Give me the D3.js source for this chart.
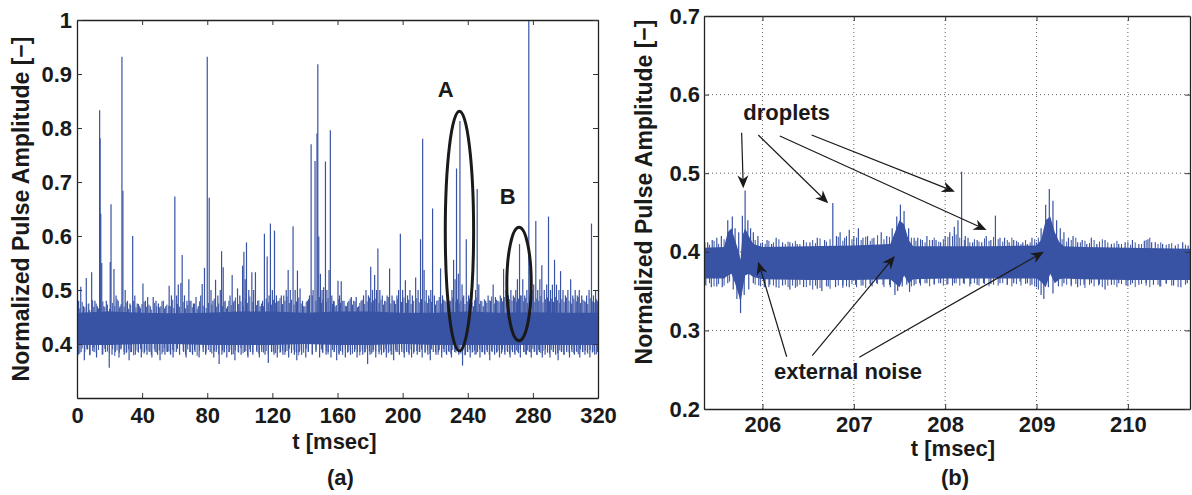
<!DOCTYPE html>
<html>
<head>
<meta charset="utf-8">
<script src="https://cdn.jsdelivr.net/npm/d3@7"></script>
<style>
  body { margin: 0; background: #fff; }
  text { font-family: "Liberation Sans", Arial, Helvetica, sans-serif; font-weight: bold; fill: #1a1a1a; }
</style>
</head>
<body>
<svg id="fig" width="1192" height="495"></svg>
<script>
// ---------- panel (a) data : t [msec], amplitude [-] ----------
var a_bandT  = [0, 20, 40, 60, 80, 100, 120, 140, 160, 180, 200, 220, 240, 260, 280, 300, 320];
var a_bandHi = [0.458, 0.46, 0.458, 0.457, 0.458, 0.46, 0.46, 0.458, 0.46, 0.46, 0.458, 0.458, 0.46, 0.458, 0.459, 0.458, 0.458];
var a_bandLo = [0.398, 0.398, 0.4, 0.4, 0.398, 0.398, 0.398, 0.4, 0.398, 0.398, 0.4, 0.398, 0.398, 0.398, 0.398, 0.398, 0.398];

// upward excursions (spikes)
var a_peakT = [1.0,2.3,4.0,5.7,7.2,9.0,11.0,12.5,13.9,14.2,14.6,15.2,16.5,18.0,19.2,20.4,20.9,22.7,24.0,25.3,26.5,27.6,28.2,29.6,31.0,32.5,34.2,35.5,37.0,38.5,
  40.5,42.0,43.4,45.0,46.8,48.5,50.0,51.5,53.0,54.5,56.6,58.0,60.1,61.2,62.2,63.8,64.6,66.0,67.5,68.7,70.0,71.5,73.1,74.5,76.0,76.9,78.3,80.0,81.2,82.3,
  83.5,85.1,86.5,88.0,88.8,89.8,91.0,92.5,94.0,95.3,96.5,98.6,100.0,101.7,102.5,103.3,104.1,105.5,107.4,108.5,109.6,111.0,112.5,114.0,115.1,116.8,118.0,118.8,120.0,121.3,
  122.5,124.0,125.5,127.0,128.5,129.7,131.0,132.7,134.0,135.4,137.0,138.5,140.0,141.5,142.8,143.8,145.0,146.2,147.4,147.9,148.5,149.5,150.5,151.5,152.6,153.5,154.8,155.6,156.5,157.5,
  158.5,160.3,161.3,162.3,164.0,165.5,167.0,168.5,170.0,171.5,173.0,174.5,176.0,177.5,179.0,180.4,181.5,182.8,184.0,184.8,186.0,187.5,189.0,190.5,192.0,193.5,195.0,196.5,197.5,198.6,
  200.0,201.7,203.0,204.5,206.0,208.0,209.5,211.0,212.3,213.2,214.5,216.0,217.3,218.4,219.5,221.0,223.3,224.5,226.0,227.5,229.0,230.3,231.3,232.2,233.1,234.2,235.2,236.5,237.5,239.1,
  240.5,242.0,243.5,244.8,245.8,246.8,248.0,249.5,251.0,252.5,254.0,255.6,257.0,258.5,260.0,262.0,263.5,265.0,266.5,268.0,269.5,270.5,271.8,272.8,273.8,275.0,276.3,277.5,278.3,279.5,
  280.5,281.8,283.0,284.3,285.5,287.0,288.5,289.6,290.8,292.0,293.3,294.5,296.0,297.0,298.5,300.0,301.5,303.2,304.5,306.0,307.3,308.5,310.0,311.5,313.0,314.5,316.0,317.2,318.5,319.5];
var a_peakV = [0.48,0.506,0.47,0.522,0.475,0.533,0.48,0.47,0.833,0.781,0.641,0.55,0.47,0.48,0.46,0.552,0.659,0.539,0.49,0.48,0.47,0.932,0.684,0.50,0.48,0.475,0.60,0.49,0.475,0.47,
  0.512,0.48,0.487,0.47,0.487,0.48,0.475,0.47,0.48,0.47,0.508,0.49,0.673,0.49,0.51,0.513,0.565,0.49,0.48,0.52,0.48,0.475,0.487,0.47,0.49,0.511,0.541,0.932,0.671,0.50,
  0.48,0.519,0.49,0.50,0.572,0.542,0.48,0.47,0.49,0.528,0.48,0.503,0.49,0.545,0.571,0.52,0.588,0.50,0.533,0.50,0.533,0.48,0.47,0.48,0.604,0.562,0.49,0.623,0.50,0.61,
  0.49,0.48,0.49,0.49,0.50,0.537,0.50,0.618,0.50,0.536,0.503,0.48,0.47,0.48,0.49,0.77,0.50,0.739,0.79,0.918,0.599,0.53,0.50,0.505,0.738,0.50,0.537,0.796,0.49,0.48,
  0.47,0.517,0.49,0.516,0.48,0.47,0.48,0.487,0.48,0.487,0.47,0.48,0.49,0.50,0.49,0.543,0.50,0.528,0.50,0.577,0.50,0.49,0.48,0.49,0.54,0.49,0.48,0.49,0.50,0.604,
  0.50,0.518,0.49,0.50,0.49,0.523,0.50,0.594,0.78,0.537,0.50,0.49,0.50,0.651,0.49,0.48,0.54,0.49,0.48,0.47,0.48,0.50,0.556,0.52,0.725,0.53,0.813,0.51,0.49,0.594,
  0.49,0.48,0.47,0.50,0.687,0.51,0.48,0.47,0.48,0.49,0.48,0.51,0.487,0.48,0.49,0.539,0.50,0.49,0.50,0.49,0.50,0.52,0.585,0.49,0.52,0.49,0.50,1.0,0.54,0.50,
  0.51,0.628,0.50,0.52,0.546,0.50,0.51,0.636,0.50,0.51,0.556,0.51,0.50,0.535,0.50,0.49,0.50,0.52,0.49,0.50,0.49,0.50,0.49,0.48,0.49,0.50,0.623,0.49,0.50,0.48];

// downward excursions
var a_dipT = [0.8,2.5,4.5,6.5,8.0,10.5,12.0,15.5,17.5,19.8,21.5,23.5,25.8,27.0,29.0,30.5,32.0,33.5,35.8,37.5,39.5,41.5,43.0,44.8,46.0,48.0,49.5,51.0,52.8,54.0,
  55.5,57.5,59.0,61.0,63.0,65.5,67.0,69.5,71.0,72.5,75.0,77.5,79.0,81.8,84.0,85.5,87.3,89.0,90.5,92.0,93.5,95.0,97.0,99.0,100.8,103.0,105.0,106.5,108.0,110.5,
  112.0,113.5,115.5,117.5,119.5,121.0,123.0,125.0,126.5,128.0,130.0,131.8,133.5,135.0,136.5,138.0,140.5,142.0,144.5,146.8,149.0,150.8,153.0,154.3,156.0,158.0,159.5,161.0,163.0,164.8,
  166.5,168.0,170.5,172.0,173.8,175.5,177.0,178.5,180.0,181.8,183.5,185.5,187.0,188.5,190.0,191.5,193.0,194.5,196.0,198.0,199.5,201.0,202.5,204.0,205.5,207.0,209.0,210.5,212.0,213.8,
  215.5,217.0,218.8,220.5,222.0,224.0,225.5,227.0,228.5,230.0,232.0,234.5,236.8,238.5,240.0,241.5,243.0,244.5,246.0,247.5,249.0,250.5,252.0,253.5,255.0,256.5,258.0,259.5,261.0,262.8,
  264.5,266.0,267.5,269.0,270.8,272.3,274.5,276.0,277.8,279.0,280.8,282.5,284.0,285.8,287.5,289.0,290.5,292.5,294.0,295.5,297.5,299.0,300.8,302.5,304.0,305.5,307.0,308.8,310.5,312.0,
  313.5,315.0,316.8,318.0,319.8];
var a_dipV = [0.38,0.385,0.37,0.39,0.38,0.385,0.375,0.38,0.385,0.356,0.38,0.385,0.375,0.39,0.38,0.385,0.37,0.385,0.38,0.385,0.375,0.385,0.38,0.385,0.375,0.385,0.38,0.37,0.385,0.38,
  0.385,0.38,0.375,0.385,0.38,0.385,0.375,0.385,0.38,0.385,0.375,0.385,0.38,0.385,0.375,0.385,0.363,0.38,0.385,0.375,0.385,0.38,0.37,0.385,0.38,0.385,0.375,0.385,0.38,0.385,
  0.375,0.385,0.38,0.365,0.385,0.38,0.375,0.385,0.38,0.385,0.375,0.385,0.38,0.37,0.385,0.38,0.375,0.385,0.38,0.385,0.375,0.385,0.38,0.385,0.375,0.385,0.37,0.38,0.385,0.375,
  0.385,0.38,0.385,0.375,0.385,0.38,0.385,0.363,0.38,0.385,0.375,0.385,0.38,0.385,0.375,0.385,0.38,0.37,0.385,0.38,0.385,0.375,0.385,0.38,0.375,0.385,0.38,0.385,0.375,0.385,
  0.38,0.37,0.385,0.38,0.385,0.375,0.385,0.38,0.385,0.375,0.385,0.38,0.36,0.38,0.385,0.375,0.385,0.38,0.385,0.375,0.385,0.38,0.385,0.37,0.385,0.38,0.385,0.375,0.385,0.38,
  0.385,0.375,0.385,0.38,0.385,0.375,0.385,0.38,0.385,0.375,0.385,0.38,0.385,0.375,0.38,0.385,0.375,0.385,0.38,0.37,0.385,0.38,0.385,0.375,0.385,0.38,0.385,0.375,0.385,0.38,
  0.385,0.375,0.385,0.38,0.385];

// fine fringe of the noise band (time, top, bottom)
var a_fuzzT = [0.3,1.7,3.2,4.8,6.0,7.8,9.6,10.3,11.8,13.2,15.9,17.1,18.7,20.0,21.9,23.2,24.6,26.0,27.1,28.9,
  30.2,31.7,33.0,34.8,36.2,37.8,39.0,41.2,42.6,44.2,45.6,47.5,49.0,50.6,52.2,53.7,55.2,57.3,58.8,59.5,
  61.7,62.9,65.2,66.7,68.0,69.3,70.8,72.2,73.8,75.3,77.5,79.3,80.7,82.8,84.3,85.8,87.0,89.3,90.3,91.8,
  93.3,94.7,96.0,97.3,99.3,100.7,102.0,103.7,104.8,106.2,108.0,110.3,111.7,113.3,114.6,116.2,117.5,119.4,120.6,122.0,
  123.3,124.7,126.2,127.7,129.0,130.4,131.7,133.3,134.6,136.2,137.7,139.2,140.8,142.2,144.5,146.8,149.0,150.1,151.0,153.1,
  154.2,156.9,158.0,159.3,160.8,161.8,163.2,164.8,166.2,167.8,169.2,170.8,172.3,173.7,175.2,176.7,178.2,179.6,181.0,182.2,
  183.5,185.5,186.7,188.3,189.7,191.2,192.8,194.2,195.7,197.0,199.3,200.8,202.3,203.7,205.2,206.8,208.7,210.2,211.6,213.8,
  215.2,216.7,217.8,220.2,221.8,222.5,224.0,225.2,226.7,228.2,229.6,230.8,232.7,233.7,234.7,235.8,237.0,238.3,239.7,241.2,
  242.7,244.2,245.2,247.3,248.7,250.2,251.7,253.2,254.7,256.3,257.7,259.2,260.7,261.4,262.7,264.2,265.7,267.2,268.7,270.0,
  271.2,272.3,274.4,275.6,276.8,278.8,280.0,281.2,282.4,283.6,284.9,286.2,287.7,289.0,290.2,291.3,292.7,293.8,295.2,296.5,
  297.8,299.2,300.7,302.2,303.8,305.2,306.7,307.9,309.2,310.7,312.2,313.7,315.2,316.5,317.7,319.0,319.9,39.9,56.4,134.9];
var a_fuzzHi = [0.472,0.466,0.478,0.468,0.474,0.463,0.481,0.469,0.475,0.466,0.479,0.468,0.473,0.465,0.476,0.47,0.483,0.467,0.474,0.469,
  0.477,0.465,0.472,0.48,0.468,0.474,0.466,0.478,0.469,0.473,0.464,0.476,0.47,0.468,0.479,0.466,0.473,0.47,0.482,0.467,
  0.474,0.469,0.478,0.466,0.472,0.48,0.468,0.475,0.465,0.479,0.471,0.467,0.476,0.473,0.484,0.469,0.475,0.47,0.478,0.466,
  0.48,0.472,0.477,0.486,0.474,0.479,0.47,0.483,0.476,0.488,0.478,0.472,0.481,0.475,0.47,0.484,0.477,0.473,0.482,0.476,
  0.479,0.485,0.474,0.48,0.488,0.476,0.482,0.473,0.479,0.486,0.475,0.47,0.478,0.483,0.49,0.48,0.487,0.476,0.482,0.478,
  0.485,0.474,0.479,0.472,0.483,0.476,0.48,0.471,0.477,0.484,0.473,0.479,0.468,0.476,0.482,0.474,0.479,0.486,0.477,0.481,
  0.484,0.476,0.482,0.473,0.479,0.487,0.475,0.481,0.474,0.483,0.478,0.486,0.476,0.482,0.474,0.48,0.485,0.477,0.483,0.479,
  0.476,0.484,0.478,0.473,0.481,0.487,0.475,0.482,0.477,0.471,0.48,0.486,0.478,0.483,0.475,0.48,0.486,0.474,0.479,0.484,
  0.477,0.481,0.486,0.474,0.479,0.483,0.476,0.481,0.488,0.475,0.482,0.478,0.485,0.479,0.487,0.476,0.483,0.48,0.486,0.478,
  0.484,0.49,0.479,0.485,0.476,0.482,0.488,0.478,0.484,0.48,0.489,0.477,0.483,0.486,0.479,0.484,0.478,0.487,0.481,0.476,
  0.483,0.478,0.486,0.48,0.475,0.484,0.479,0.487,0.476,0.482,0.478,0.474,0.485,0.479,0.477,0.483,0.476,0.474,0.471,0.478];
var a_fuzzLo = [0.388,0.382,0.392,0.385,0.39,0.379,0.387,0.393,0.384,0.389,0.381,0.391,0.386,0.383,0.39,0.378,0.388,0.384,0.392,0.386,
  0.383,0.39,0.385,0.379,0.388,0.384,0.391,0.382,0.389,0.386,0.38,0.39,0.384,0.388,0.381,0.392,0.386,0.383,0.389,0.385,
  0.391,0.384,0.388,0.38,0.39,0.385,0.383,0.389,0.378,0.387,0.392,0.384,0.389,0.382,0.386,0.39,0.381,0.388,0.384,0.391,
  0.385,0.389,0.381,0.388,0.384,0.392,0.383,0.387,0.379,0.39,0.385,0.388,0.382,0.39,0.384,0.387,0.381,0.389,0.386,0.383,
  0.39,0.384,0.388,0.38,0.387,0.391,0.383,0.389,0.385,0.379,0.388,0.384,0.391,0.386,0.382,0.389,0.385,0.39,0.383,0.387,
  0.381,0.389,0.385,0.391,0.383,0.387,0.38,0.39,0.384,0.388,0.382,0.39,0.385,0.379,0.388,0.384,0.391,0.386,0.382,0.389,
  0.386,0.381,0.389,0.384,0.39,0.383,0.387,0.38,0.389,0.385,0.391,0.383,0.388,0.384,0.39,0.382,0.387,0.385,0.39,0.383,
  0.388,0.382,0.39,0.385,0.38,0.389,0.384,0.391,0.383,0.387,0.381,0.389,0.384,0.39,0.386,0.382,0.388,0.379,0.385,0.39,
  0.384,0.388,0.381,0.39,0.385,0.383,0.389,0.38,0.387,0.391,0.384,0.388,0.382,0.39,0.385,0.387,0.381,0.389,0.384,0.388,
  0.383,0.39,0.385,0.381,0.388,0.384,0.391,0.386,0.38,0.389,0.383,0.387,0.39,0.384,0.382,0.389,0.385,0.391,0.383,0.388,
  0.386,0.38,0.389,0.384,0.39,0.383,0.387,0.381,0.39,0.385,0.388,0.382,0.389,0.384,0.387,0.381,0.39,0.385,0.386,0.384];

var a_xTicks = [0, 40, 80, 120, 160, 200, 240, 280, 320];
var a_yTicks = [0.4, 0.5, 0.6, 0.7, 0.8, 0.9, 1];

// ellipses A and B : centre t, centre v, half width (msec), half height
var a_ellT  = [234.9, 271.5];
var a_ellV  = [0.609, 0.511];
var a_ellRt = [8.7, 7.5];
var a_ellRv = [0.222, 0.105];
var a_labels = ["A", "B"];
var a_labelT = [226.4, 264.6];
var a_labelV = [0.857, 0.659];

// ---------- panel (b) data ----------
var b_bandT  = [205.36, 205.58, 205.62, 205.66, 205.70, 205.74, 205.76, 205.78, 205.81, 205.85, 205.90, 206.0, 206.5, 207.0, 207.4, 207.45,
  207.50, 207.55, 207.60, 207.65, 208.0, 208.5, 209.0, 209.05, 209.10, 209.15, 209.20, 209.25, 209.30, 209.5, 210.0, 210.68];
var b_bandHi = [0.405, 0.406, 0.425, 0.43, 0.415, 0.40, 0.39, 0.42, 0.43, 0.42, 0.41, 0.406, 0.407, 0.408, 0.41, 0.425,
  0.44, 0.435, 0.415, 0.407, 0.407, 0.407, 0.408, 0.415, 0.44, 0.445, 0.425, 0.412, 0.407, 0.406, 0.405, 0.404];
var b_bandLo = [0.366, 0.366, 0.37, 0.372, 0.36, 0.345, 0.335, 0.35, 0.37, 0.372, 0.368, 0.365, 0.364, 0.364, 0.365, 0.36,
  0.355, 0.37, 0.36, 0.365, 0.366, 0.366, 0.366, 0.362, 0.355, 0.372, 0.36, 0.365, 0.366, 0.365, 0.364, 0.364];

var b_peakT = [205.40,205.45,205.50,205.55,205.62,205.67,205.70,205.74,205.78,205.81,205.84,205.87,205.90,205.95,206.00,206.05,206.10,206.15,206.22,206.30,
  206.38,206.45,206.52,206.60,206.68,206.77,206.81,206.85,206.90,206.95,207.00,207.05,207.10,207.15,207.22,207.30,207.36,207.42,207.47,207.51,
  207.55,207.60,207.66,207.70,207.75,207.80,207.86,207.90,207.95,208.00,208.05,208.10,208.14,208.18,208.22,208.25,208.30,208.35,208.40,208.45,
  208.50,208.55,208.60,208.65,208.70,208.75,208.80,208.85,208.90,208.95,209.00,209.05,209.10,209.14,209.18,209.22,209.26,209.30,209.35,209.40,
  209.45,209.50,209.55,209.60,209.66,209.75,209.82,209.90,209.97,210.05,210.12,210.18,210.22,210.26,210.30,210.38,210.45,210.52,210.60,210.66];
var b_peakV = [0.412,0.415,0.418,0.42,0.44,0.445,0.43,0.425,0.446,0.478,0.44,0.43,0.425,0.42,0.412,0.415,0.41,0.418,0.412,0.412,
  0.41,0.415,0.412,0.418,0.415,0.462,0.42,0.425,0.418,0.428,0.42,0.43,0.418,0.42,0.418,0.425,0.42,0.43,0.445,0.46,
  0.452,0.43,0.418,0.418,0.415,0.42,0.415,0.415,0.412,0.42,0.425,0.432,0.44,0.502,0.42,0.418,0.412,0.415,0.412,0.42,
  0.415,0.446,0.418,0.418,0.412,0.415,0.412,0.412,0.41,0.418,0.412,0.43,0.46,0.48,0.465,0.44,0.43,0.425,0.418,0.42,
  0.412,0.415,0.41,0.418,0.41,0.415,0.41,0.41,0.412,0.415,0.41,0.414,0.416,0.412,0.412,0.41,0.41,0.408,0.412,0.408];

var b_dipT = [205.38,205.44,205.50,205.56,205.62,205.68,205.72,205.76,205.80,205.85,205.90,205.96,206.02,206.08,206.15,206.22,206.30,206.38,206.45,206.52,
  206.60,206.65,206.72,206.80,206.88,206.95,207.02,207.10,207.18,207.25,207.32,207.40,207.45,207.48,207.53,207.58,207.61,207.66,207.72,207.80,
  207.88,207.95,208.02,208.10,208.20,208.28,208.35,208.42,208.50,208.60,208.68,208.75,208.82,208.90,208.95,209.00,209.05,209.08,209.13,209.18,
  209.24,209.30,209.38,209.45,209.52,209.60,209.68,209.75,209.82,209.90,209.98,210.05,210.12,210.20,210.28,210.35,210.42,210.50,210.58,210.65];
var b_dipV = [0.357,0.355,0.356,0.355,0.36,0.352,0.34,0.322,0.345,0.352,0.36,0.357,0.355,0.358,0.355,0.357,0.352,0.356,0.355,0.357,
  0.353,0.35,0.356,0.355,0.357,0.355,0.358,0.357,0.359,0.36,0.358,0.355,0.345,0.35,0.356,0.358,0.349,0.357,0.36,0.36,
  0.359,0.36,0.358,0.36,0.36,0.359,0.358,0.36,0.359,0.36,0.358,0.36,0.362,0.36,0.358,0.355,0.345,0.34,0.355,0.347,
  0.356,0.36,0.358,0.355,0.358,0.36,0.357,0.352,0.358,0.36,0.357,0.36,0.358,0.36,0.358,0.356,0.36,0.357,0.355,0.36];

var b_fuzzT = [205.37,205.42,205.47,205.52,205.58,205.64,205.92,205.98,206.03,206.07,206.12,206.18,206.25,206.28,206.33,
  206.36,206.41,206.48,206.55,206.58,206.63,206.70,206.74,206.83,206.88,206.92,206.98,207.03,207.08,207.13,
  207.18,207.20,207.26,207.33,207.39,207.63,207.68,207.73,207.78,207.83,207.88,207.93,207.98,208.03,208.08,
  208.12,208.16,208.21,208.27,208.32,208.37,208.43,208.48,208.53,208.58,208.63,208.68,208.73,208.78,208.83,
  208.88,208.93,208.98,209.02,209.28,209.33,209.38,209.43,209.48,209.53,209.58,209.63,209.69,209.72,209.78,
  209.85,209.88,209.93,210.00,210.03,210.08,210.15,210.20,210.24,210.33,210.36,210.42,210.48,210.55,210.63];
var b_fuzzHi = [0.412,0.409,0.414,0.41,0.416,0.418,0.415,0.411,0.41,0.414,0.412,0.416,0.41,0.413,0.411,
  0.414,0.41,0.412,0.415,0.411,0.417,0.413,0.416,0.419,0.414,0.42,0.416,0.418,0.415,0.419,
  0.414,0.417,0.421,0.416,0.419,0.418,0.414,0.416,0.412,0.415,0.418,0.413,0.416,0.419,0.42,
  0.422,0.418,0.415,0.412,0.416,0.413,0.417,0.414,0.419,0.416,0.413,0.415,0.418,0.414,0.41,
  0.415,0.412,0.416,0.418,0.416,0.413,0.415,0.418,0.412,0.414,0.411,0.415,0.413,0.416,0.412,
  0.411,0.414,0.41,0.413,0.409,0.412,0.41,0.415,0.418,0.41,0.412,0.409,0.411,0.41,0.409];
var b_fuzzLo = [0.358,0.36,0.356,0.359,0.357,0.362,0.358,0.356,0.359,0.355,0.357,0.354,0.358,0.355,0.357,
  0.354,0.358,0.355,0.352,0.357,0.354,0.356,0.353,0.357,0.354,0.356,0.359,0.355,0.357,0.354,
  0.358,0.356,0.359,0.355,0.358,0.356,0.359,0.357,0.36,0.356,0.358,0.36,0.357,0.359,0.357,
  0.36,0.357,0.359,0.356,0.36,0.357,0.359,0.356,0.358,0.357,0.36,0.358,0.356,0.359,0.357,
  0.359,0.357,0.356,0.352,0.356,0.358,0.356,0.359,0.357,0.354,0.358,0.356,0.359,0.355,0.357,
  0.358,0.355,0.359,0.356,0.358,0.355,0.359,0.357,0.355,0.358,0.356,0.359,0.357,0.355,0.358];

var b_xTicks = [206, 207, 208, 209, 210];
var b_yTicks = [0.2, 0.3, 0.4, 0.5, 0.6, 0.7];
var b_gridY  = [0.3, 0.4, 0.5, 0.6];

// annotation arrows : start (t, v) -> tip (t, v)
var b_arrT1 = [205.772, 205.954, 206.19, 206.538, 206.265, 206.545, 207.06];
var b_arrV1 = [0.5515, 0.5486, 0.5473, 0.5486, 0.2665, 0.2678, 0.2658];
var b_arrT2 = [205.79, 206.72, 208.453, 208.106, 205.954, 207.45, 209.08];
var b_arrV2 = [0.4808, 0.4617, 0.4277, 0.4765, 0.3874, 0.3947, 0.4001];
var b_texts  = ["droplets", "external noise"];
var b_textT  = [206.265, 206.126];
var b_textV  = [0.5677, 0.2378];
var b_anchor = ["middle", "start"];

var BLUE = "#3953a4";
var svg = d3.select("#fig");

function zip(t, v) {
    return t.map(function(d, i) { return [d, v[i]]; })
        .filter(function(d) { return d[1] !== undefined; });
}

function vlines(sel, data, x, y, width) {
    sel.append("g").selectAll("line").data(data).enter().append("line")
        .attr("x1", function(d) { return x(d[0]); }).attr("x2", function(d) { return x(d[0]); })
        .attr("y1", function(d) { return y(d[1]); }).attr("y2", function(d) { return y(d[2]); })
        .attr("stroke", BLUE).attr("stroke-width", width);
}

function drawPanel(cfg) {
    var x = d3.scaleLinear().domain(cfg.xDom).range([cfg.left, cfg.right]);
    var y = d3.scaleLinear().domain(cfg.yDom).range([cfg.bottom, cfg.top]);
    var g = svg.append("g");
    var w = cfg.right - cfg.left, h = cfg.bottom - cfg.top;

    // grid
    if (cfg.grid) {
        g.append("g").selectAll("line").data(cfg.xTicks).enter().append("line")
            .attr("x1", x).attr("x2", x).attr("y1", cfg.top).attr("y2", cfg.bottom)
            .attr("stroke", "#666").attr("stroke-width", 1).attr("stroke-dasharray", "1,3");
        g.append("g").selectAll("line").data(cfg.gridY).enter().append("line")
            .attr("y1", y).attr("y2", y).attr("x1", cfg.left).attr("x2", cfg.right)
            .attr("stroke", "#666").attr("stroke-width", 1).attr("stroke-dasharray", "1,3");
    }

    var clipId = "clip" + cfg.name;
    svg.append("clipPath").attr("id", clipId).append("rect")
        .attr("x", cfg.left).attr("y", cfg.top).attr("width", w).attr("height", h);
    var plot = g.append("g").attr("clip-path", "url(#" + clipId + ")");

    var mid = (d3.mean(cfg.bandHi) + d3.mean(cfg.bandLo)) / 2;

    // excursions and fringe
    vlines(plot, zip(cfg.peakT, cfg.peakV).map(function(d) { return [d[0], mid, d[1]]; }), x, y, 1.2);
    vlines(plot, zip(cfg.dipT, cfg.dipV).map(function(d) { return [d[0], mid, d[1]]; }), x, y, 1.2);
    vlines(plot, cfg.fuzzT.map(function(t, i) { return [t, cfg.fuzzLo[i], cfg.fuzzHi[i]]; })
        .filter(function(d) { return d[1] !== undefined && d[2] !== undefined; }), x, y, 1);

    // dense core of the signal
    var area = d3.area()
        .x(function(d) { return x(d[0]); })
        .y0(function(d) { return y(d[1]); })
        .y1(function(d) { return y(d[2]); });
    plot.append("path")
        .datum(cfg.bandT.map(function(t, i) { return [t, cfg.bandLo[i], cfg.bandHi[i]]; }))
        .attr("d", area).attr("fill", BLUE);

    // axes (MATLAB style box, ticks inside)
    var fmt = cfg.fmt;
    var ax = [
        d3.axisBottom(x).tickValues(cfg.xTicks).tickSize(-5).tickSizeOuter(0).tickPadding(cfg.xPad).tickFormat(fmt.x),
        d3.axisTop(x).tickValues(cfg.xTicks).tickSize(-5).tickSizeOuter(0).tickFormat(""),
        d3.axisLeft(y).tickValues(cfg.yTicks).tickSize(-5).tickSizeOuter(0).tickPadding(cfg.yPad).tickFormat(fmt.y),
        d3.axisRight(y).tickValues(cfg.yTicks).tickSize(-5).tickSizeOuter(0).tickFormat("")
    ];
    var pos = ["translate(0," + cfg.bottom + ")", "translate(0," + cfg.top + ")",
               "translate(" + cfg.left + ",0)", "translate(" + cfg.right + ",0)"];
    ax.forEach(function(a, i) {
        var ga = g.append("g").attr("transform", pos[i]).call(a);
        ga.selectAll("path.domain").attr("stroke", "#222").attr("stroke-width", 1.3);
        ga.selectAll(".tick line").attr("stroke", "#333").attr("stroke-width", 1);
        ga.selectAll("text").style("font-size", "22px").attr("font-family", null).attr("fill", "#1a1a1a");
    });

    // labels
    g.append("text").attr("x", (cfg.left + cfg.right) / 2 + cfg.xlabDx).attr("y", cfg.xlabY)
        .attr("text-anchor", "middle").style("font-size", "22px").text("t [msec]");
    g.append("text").attr("x", (cfg.left + cfg.right) / 2 + cfg.capDx).attr("y", 485)
        .attr("text-anchor", "middle").style("font-size", "22px").text(cfg.caption);
    g.append("text").attr("transform", "translate(" + cfg.ylabX + "," + cfg.ylabY + ") rotate(-90)")
        .attr("text-anchor", "middle").style("font-size", "23px").text("Normalized Pulse Amplitude [\u2212]");

    return { g: g, x: x, y: y };
}

// ---------- panel (a) ----------
var pa = drawPanel({
    name: "a", left: 77, right: 598, top: 20, bottom: 398,
    xDom: [0, 320], yDom: [0.3, 1],
    xTicks: a_xTicks, yTicks: a_yTicks, xPad: 9, yPad: 5,
    fmt: { x: d3.format("d"), y: function(d) { return d === 1 ? "1" : d3.format(".1f")(d); } },
    bandT: a_bandT, bandHi: a_bandHi, bandLo: a_bandLo,
    peakT: a_peakT, peakV: a_peakV, dipT: a_dipT, dipV: a_dipV,
    fuzzT: a_fuzzT, fuzzHi: a_fuzzHi, fuzzLo: a_fuzzLo,
    xlabDx: -3, xlabY: 449,
    caption: "(a)", capDx: 3, ylabX: 29, ylabY: 209, grid: false
});

pa.g.append("g").selectAll("ellipse").data(a_ellT).enter().append("ellipse")
    .attr("cx", function(d) { return pa.x(d); })
    .attr("cy", function(d, i) { return pa.y(a_ellV[i]); })
    .attr("rx", function(d, i) { return pa.x(d + a_ellRt[i]) - pa.x(d); })
    .attr("ry", function(d, i) { return pa.y(0) - pa.y(a_ellRv[i]); })
    .attr("fill", "none").attr("stroke", "#1a1a1a").attr("stroke-width", 3);
pa.g.append("g").selectAll("text").data(a_labels).enter().append("text")
    .attr("x", function(d, i) { return pa.x(a_labelT[i]); })
    .attr("y", function(d, i) { return pa.y(a_labelV[i]); })
    .attr("text-anchor", "middle").style("font-size", "22px").text(function(d) { return d; });

// ---------- panel (b) ----------
var pb = drawPanel({
    name: "b", left: 704, right: 1190, top: 16, bottom: 409,
    xDom: [205.36, 210.68], yDom: [0.2, 0.7],
    xTicks: b_xTicks, yTicks: b_yTicks, xPad: 7, yPad: 4, gridY: b_gridY,
    fmt: { x: d3.format("d"), y: d3.format(".1f") },
    bandT: b_bandT, bandHi: b_bandHi, bandLo: b_bandLo,
    peakT: b_peakT, peakV: b_peakV, dipT: b_dipT, dipV: b_dipV,
    fuzzT: b_fuzzT, fuzzHi: b_fuzzHi, fuzzLo: b_fuzzLo,
    xlabDx: 6, xlabY: 456,
    caption: "(b)", capDx: 8, ylabX: 652, ylabY: 192, grid: true
});

// arrows
b_arrT1.forEach(function(t, i) {
    var x1 = pb.x(t), y1 = pb.y(b_arrV1[i]), x2 = pb.x(b_arrT2[i]), y2 = pb.y(b_arrV2[i]);
    var a = Math.atan2(y2 - y1, x2 - x1), ux = Math.cos(a), uy = Math.sin(a), nx = -uy, ny = ux;
    var L = 13, W = 5.5, N = 9;
    pb.g.append("line").attr("x1", x1).attr("y1", y1)
        .attr("x2", x2 - N * ux).attr("y2", y2 - N * uy)
        .attr("stroke", "#1a1a1a").attr("stroke-width", 1.2);
    var pts = [[x2, y2], [x2 - L * ux + W * nx, y2 - L * uy + W * ny],
               [x2 - N * ux, y2 - N * uy], [x2 - L * ux - W * nx, y2 - L * uy - W * ny]];
    pb.g.append("path").attr("d", "M" + pts.join("L") + "Z").attr("fill", "#1a1a1a");
});
pb.g.append("g").selectAll("text").data(b_texts).enter().append("text")
    .attr("x", function(d, i) { return pb.x(b_textT[i]); })
    .attr("y", function(d, i) { return pb.y(b_textV[i]); })
    .attr("text-anchor", function(d, i) { return b_anchor[i]; })
    .style("font-size", "22px").text(function(d) { return d; });
</script>
</body>
</html>
